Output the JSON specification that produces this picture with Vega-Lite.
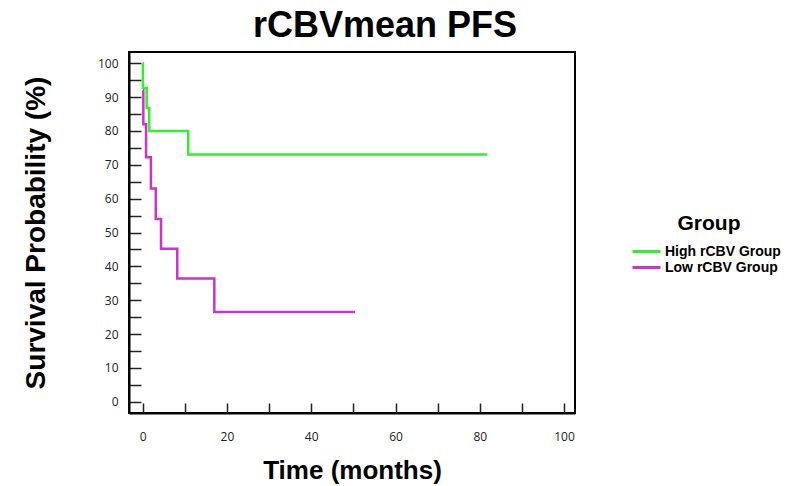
{
  "$schema": "https://vega.github.io/schema/vega-lite/v6.json",
  "autosize": {"type": "none"},
  "width": 446,
  "height": 361,
  "padding": {"left": 129, "top": 52, "right": 215, "bottom": 73},
  "background": "white",
  "title": {
    "text": "rCBVmean PFS",
    "font": "Liberation Sans",
    "fontSize": 36,
    "fontWeight": "bold",
    "color": "black",
    "anchor": "middle",
    "frame": "group",
    "dx": 33,
    "offset": 7
  },
  "config": {
    "view": {"stroke": "black", "strokeWidth": 2},
    "axis": {
      "domainColor": "black",
      "domainWidth": 2,
      "tickColor": "#222222",
      "tickWidth": 1.5,
      "labelFont": "Open Sans",
      "labelFontSize": 12,
      "labelColor": "#222222",
      "titleFont": "Liberation Sans",
      "titleFontWeight": "bold",
      "titleColor": "black",
      "grid": false
    }
  },
  "data": {
    "values": [
      {"group": "High rCBV Group", "time": 0, "surv": 100, "ord": 0},
      {"group": "High rCBV Group", "time": 0.05, "surv": 92.7, "ord": 1},
      {"group": "High rCBV Group", "time": 0.95, "surv": 86.8, "ord": 2},
      {"group": "High rCBV Group", "time": 1.55, "surv": 80, "ord": 3},
      {"group": "High rCBV Group", "time": 10.8, "surv": 73, "ord": 4},
      {"group": "High rCBV Group", "time": 81.8, "surv": 73, "ord": 5},
      {"group": "Low rCBV Group", "time": 0.1, "surv": 92, "ord": 0},
      {"group": "Low rCBV Group", "time": 0.15, "surv": 82, "ord": 1},
      {"group": "Low rCBV Group", "time": 0.8, "surv": 72.2, "ord": 2},
      {"group": "Low rCBV Group", "time": 1.95, "surv": 63, "ord": 3},
      {"group": "Low rCBV Group", "time": 3.1, "surv": 54, "ord": 4},
      {"group": "Low rCBV Group", "time": 4.35, "surv": 45.2, "ord": 5},
      {"group": "Low rCBV Group", "time": 8.2, "surv": 36.4, "ord": 6},
      {"group": "Low rCBV Group", "time": 17.0, "surv": 26.5, "ord": 7},
      {"group": "Low rCBV Group", "time": 50.4, "surv": 26.5, "ord": 8}
    ]
  },
  "mark": {"type": "line", "interpolate": "step-after", "strokeWidth": 2.5, "clip": true},
  "encoding": {
    "x": {
      "field": "time",
      "type": "quantitative",
      "scale": {"domain": [-3.25, 102.6], "nice": false, "zero": false},
      "axis": {
        "title": "Time (months)",
        "titleFontSize": 26,
        "titlePadding": 15,
        "values": [0, 10, 20, 30, 40, 50, 60, 70, 80, 90, 100],
        "labelExpr": "datum.value % 20 === 0 ? datum.label : ''",
        "tickSize": -10,
        "labelPadding": 28
      }
    },
    "y": {
      "field": "surv",
      "type": "quantitative",
      "scale": {"domain": [-3.3, 103.3], "nice": false, "zero": false},
      "axis": {
        "title": "Survival Probability (%)",
        "titleFontSize": 28,
        "titlePadding": 47,
        "values": [0, 5, 10, 15, 20, 25, 30, 35, 40, 45, 50, 55, 60, 65, 70, 75, 80, 85, 90, 95, 100],
        "labelExpr": "datum.value % 10 === 0 ? datum.label : ''",
        "tickSize": -12,
        "labelPadding": 23
      }
    },
    "color": {
      "field": "group",
      "type": "nominal",
      "scale": {"domain": ["High rCBV Group", "Low rCBV Group"], "range": ["#33ee33", "#cc33cc"]},
      "legend": {
        "title": "Group",
        "orient": "none",
        "legendX": 509,
        "legendY": 161,
        "titleFont": "Liberation Sans",
        "titleFontSize": 21,
        "titleFontWeight": "bold",
        "titleColor": "black",
        "titleAnchor": "middle",
        "titlePadding": 9,
        "labelFont": "Liberation Sans",
        "labelFontSize": 14,
        "labelFontWeight": "bold",
        "labelColor": "black",
        "labelOffset": 10,
        "symbolType": "M-2,0L2,0",
        "symbolStrokeWidth": 3,
        "symbolSize": 196,
        "rowPadding": -1
      }
    },
    "order": {"field": "ord", "type": "quantitative"}
  }
}
